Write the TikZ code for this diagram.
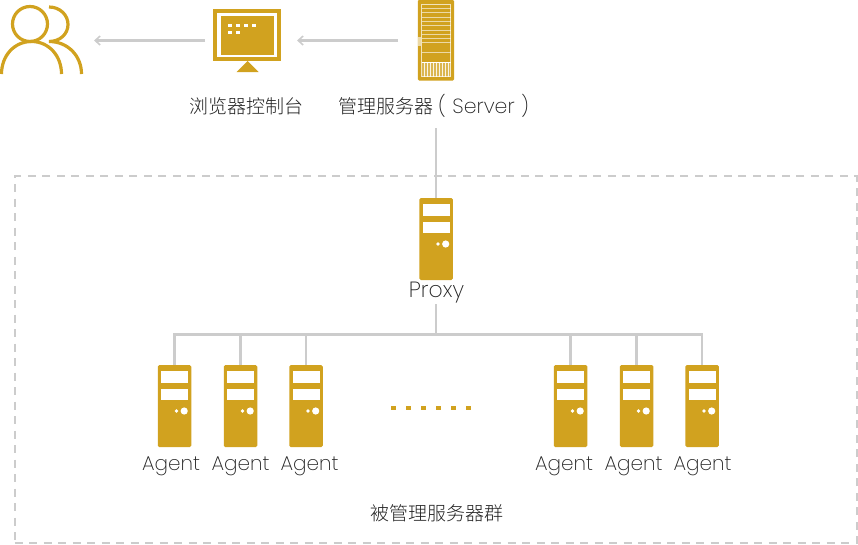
\documentclass[tikz,border=0pt]{standalone}
\usepackage{fontspec}
\setmainfont{Poppins}[UprightFont=* ExtraLight]
\newfontfamily\cjk{Noto Sans CJK SC}[UprightFont=* Light]
\usetikzlibrary{arrows.meta}
\definecolor{gold}{HTML}{D1A21F}
\definecolor{wire}{HTML}{CCCCCC}
\definecolor{ink}{HTML}{222222}
\tikzset{
  wireline/.style={draw=wire,line width=2.2pt},
  arrowline/.style={wireline,-{Straight Barb[length=5pt,width=9pt,line width=1.6pt]}},
  towerbox/.style={fill=gold,draw=none,rounded corners=1.5pt,minimum width=33.5pt,minimum height=82pt,inner sep=0pt},
  lbl/.style={font=\fontsize{20}{22}\selectfont,text=ink,inner sep=0pt},
  cjklbl/.style={font=\cjk\fontsize{19}{22}\selectfont,text=ink,inner sep=0pt},
  iconline/.style={draw=gold,line width=3.2pt,line cap=butt},
}
% tower: name, centre x, top y
\newcommand{\tower}[3]{%
  \node[towerbox] (#1) at (#2,#3+41) {};
  \fill[white] (#2-13.5,#3+6) rectangle (#2+13.5,#3+18);
  \fill[white] (#2-13.5,#3+23.5) rectangle (#2+13.5,#3+35.2);
  \fill[white] (#2+2,#3+46) circle (1.9);
  \fill[white] (#2+9.7,#3+46) circle (3.6);
}
\begin{document}
\begin{tikzpicture}[x=1pt,y=-1pt]
\useasboundingbox (0,0) rectangle (858,544);
% dashed frame
\node[draw=wire,line width=2pt,dash pattern=on 8pt off 6.5pt,minimum width=842pt,minimum height=367pt,inner sep=0pt] (frame) at (435.5,359.5) {};
% users
\draw[iconline] (30,24) circle (17.5);
\draw[iconline] (1.5,74) .. controls (1.5,56) and (14,41.5) .. (31.5,41.5) .. controls (49,41.5) and (61.5,56) .. (61.5,74);
\draw[iconline] (49,7) .. controls (60,7) and (68,15) .. (68,24.5) .. controls (68,34) and (60,41.5) .. (49,41.5) .. controls (68,41.5) and (81.5,56) .. (81.5,74);
% browser monitor
\node[draw=gold,line width=4pt,fill=white,minimum width=64pt,minimum height=48pt,inner sep=0pt] (monitor) at (247.2,35) {};
\fill[gold] (221,16) rectangle (273.7,55);
\foreach \x in {228.3,236.3,244.3,252.3}{\fill[white] (\x,24) rectangle ++(3.6,3.4);}
\foreach \x in {228.3,236.3}{\fill[white] (\x,31) rectangle ++(3.6,3.4);}
\fill[gold] (236.5,72) -- (247.5,61) -- (258.5,72) -- cycle;
% management server
\node[fill=gold,rounded corners=1.5pt,minimum width=36.3pt,minimum height=81pt,inner sep=0pt] (server) at (435.9,40.2) {};
\draw[white,line width=.6pt,opacity=.7] (421.7,4.3) rectangle (450.7,76.7);
\foreach \y in {8.3,12.3,17,21.3,25.7,30,34,38.3,42.7,52.3}{\draw[white,line width=.6pt,opacity=.6] (421.7,\y) -- (450.7,\y);}
\fill[white,opacity=.22] (421.7,62) rectangle (450.7,76.7);
\draw[white,line width=.6pt] (421.7,62) -- (450.7,62);
\foreach \x in {424,427,430,433,436,439,442,445,448}{\draw[white,line width=.6pt,opacity=.85] (\x,62) -- (\x,76.7);}
\fill[white,opacity=.6] (418,37) rectangle (421,46);
% proxy and agents
\tower{proxy}{436}{198}
\tower{a1}{174.5}{365}
\tower{a2}{240.5}{365}
\tower{a3}{306}{365}
\tower{a4}{570.5}{365}
\tower{a5}{636.5}{365}
\tower{a6}{702}{365}
% dots
\foreach \x in {393,408,423.5,438.5,453.5,468.5}{\fill[gold] (\x-2.5,405.5) rectangle (\x+2.5,410);}
% labels
\node[cjklbl] (lbrowser) at (246.5,106) {浏览器控制台};
\node[cjklbl,anchor=west] (lserver) at (338,106) {管理服务器\hspace{5pt}{\rmfamily\fontsize{20.5}{22}\selectfont(\hspace{6.5pt}Server\hspace{6.5pt})}};
\node[lbl,font=\fontsize{22}{24}\selectfont] (lproxy) at (436.5,292.5) {Proxy};
\node[lbl] (t1) at (171,466) {Agent};
\node[lbl] (t2) at (240.5,466) {Agent};
\node[lbl] (t3) at (309.5,466) {Agent};
\node[lbl] (t4) at (564,466) {Agent};
\node[lbl] (t5) at (633.5,466) {Agent};
\node[lbl] (t6) at (702.5,466) {Agent};
\node[cjklbl] (lgroup) at (436.5,513) {被管理服务器群};
% connectors
\draw[arrowline] (398,40.5) -- (297,40.5);
\draw[arrowline] (205,40.5) -- (94,40.5);
\coordinate (bus) at (436,334.5);
\coordinate (stemtop) at (436,128);
\draw[wireline] (stemtop) -- (proxy.north);
\draw[wireline] (436,304) -- (bus);
\draw[wireline] (a1.north) |- (bus);
\draw[wireline] (a6.north) |- (bus);
\foreach \n in {a2,a3,a4,a5}{\draw[wireline] (\n.north) -- (\n.north |- bus);}
\end{tikzpicture}
\end{document}
